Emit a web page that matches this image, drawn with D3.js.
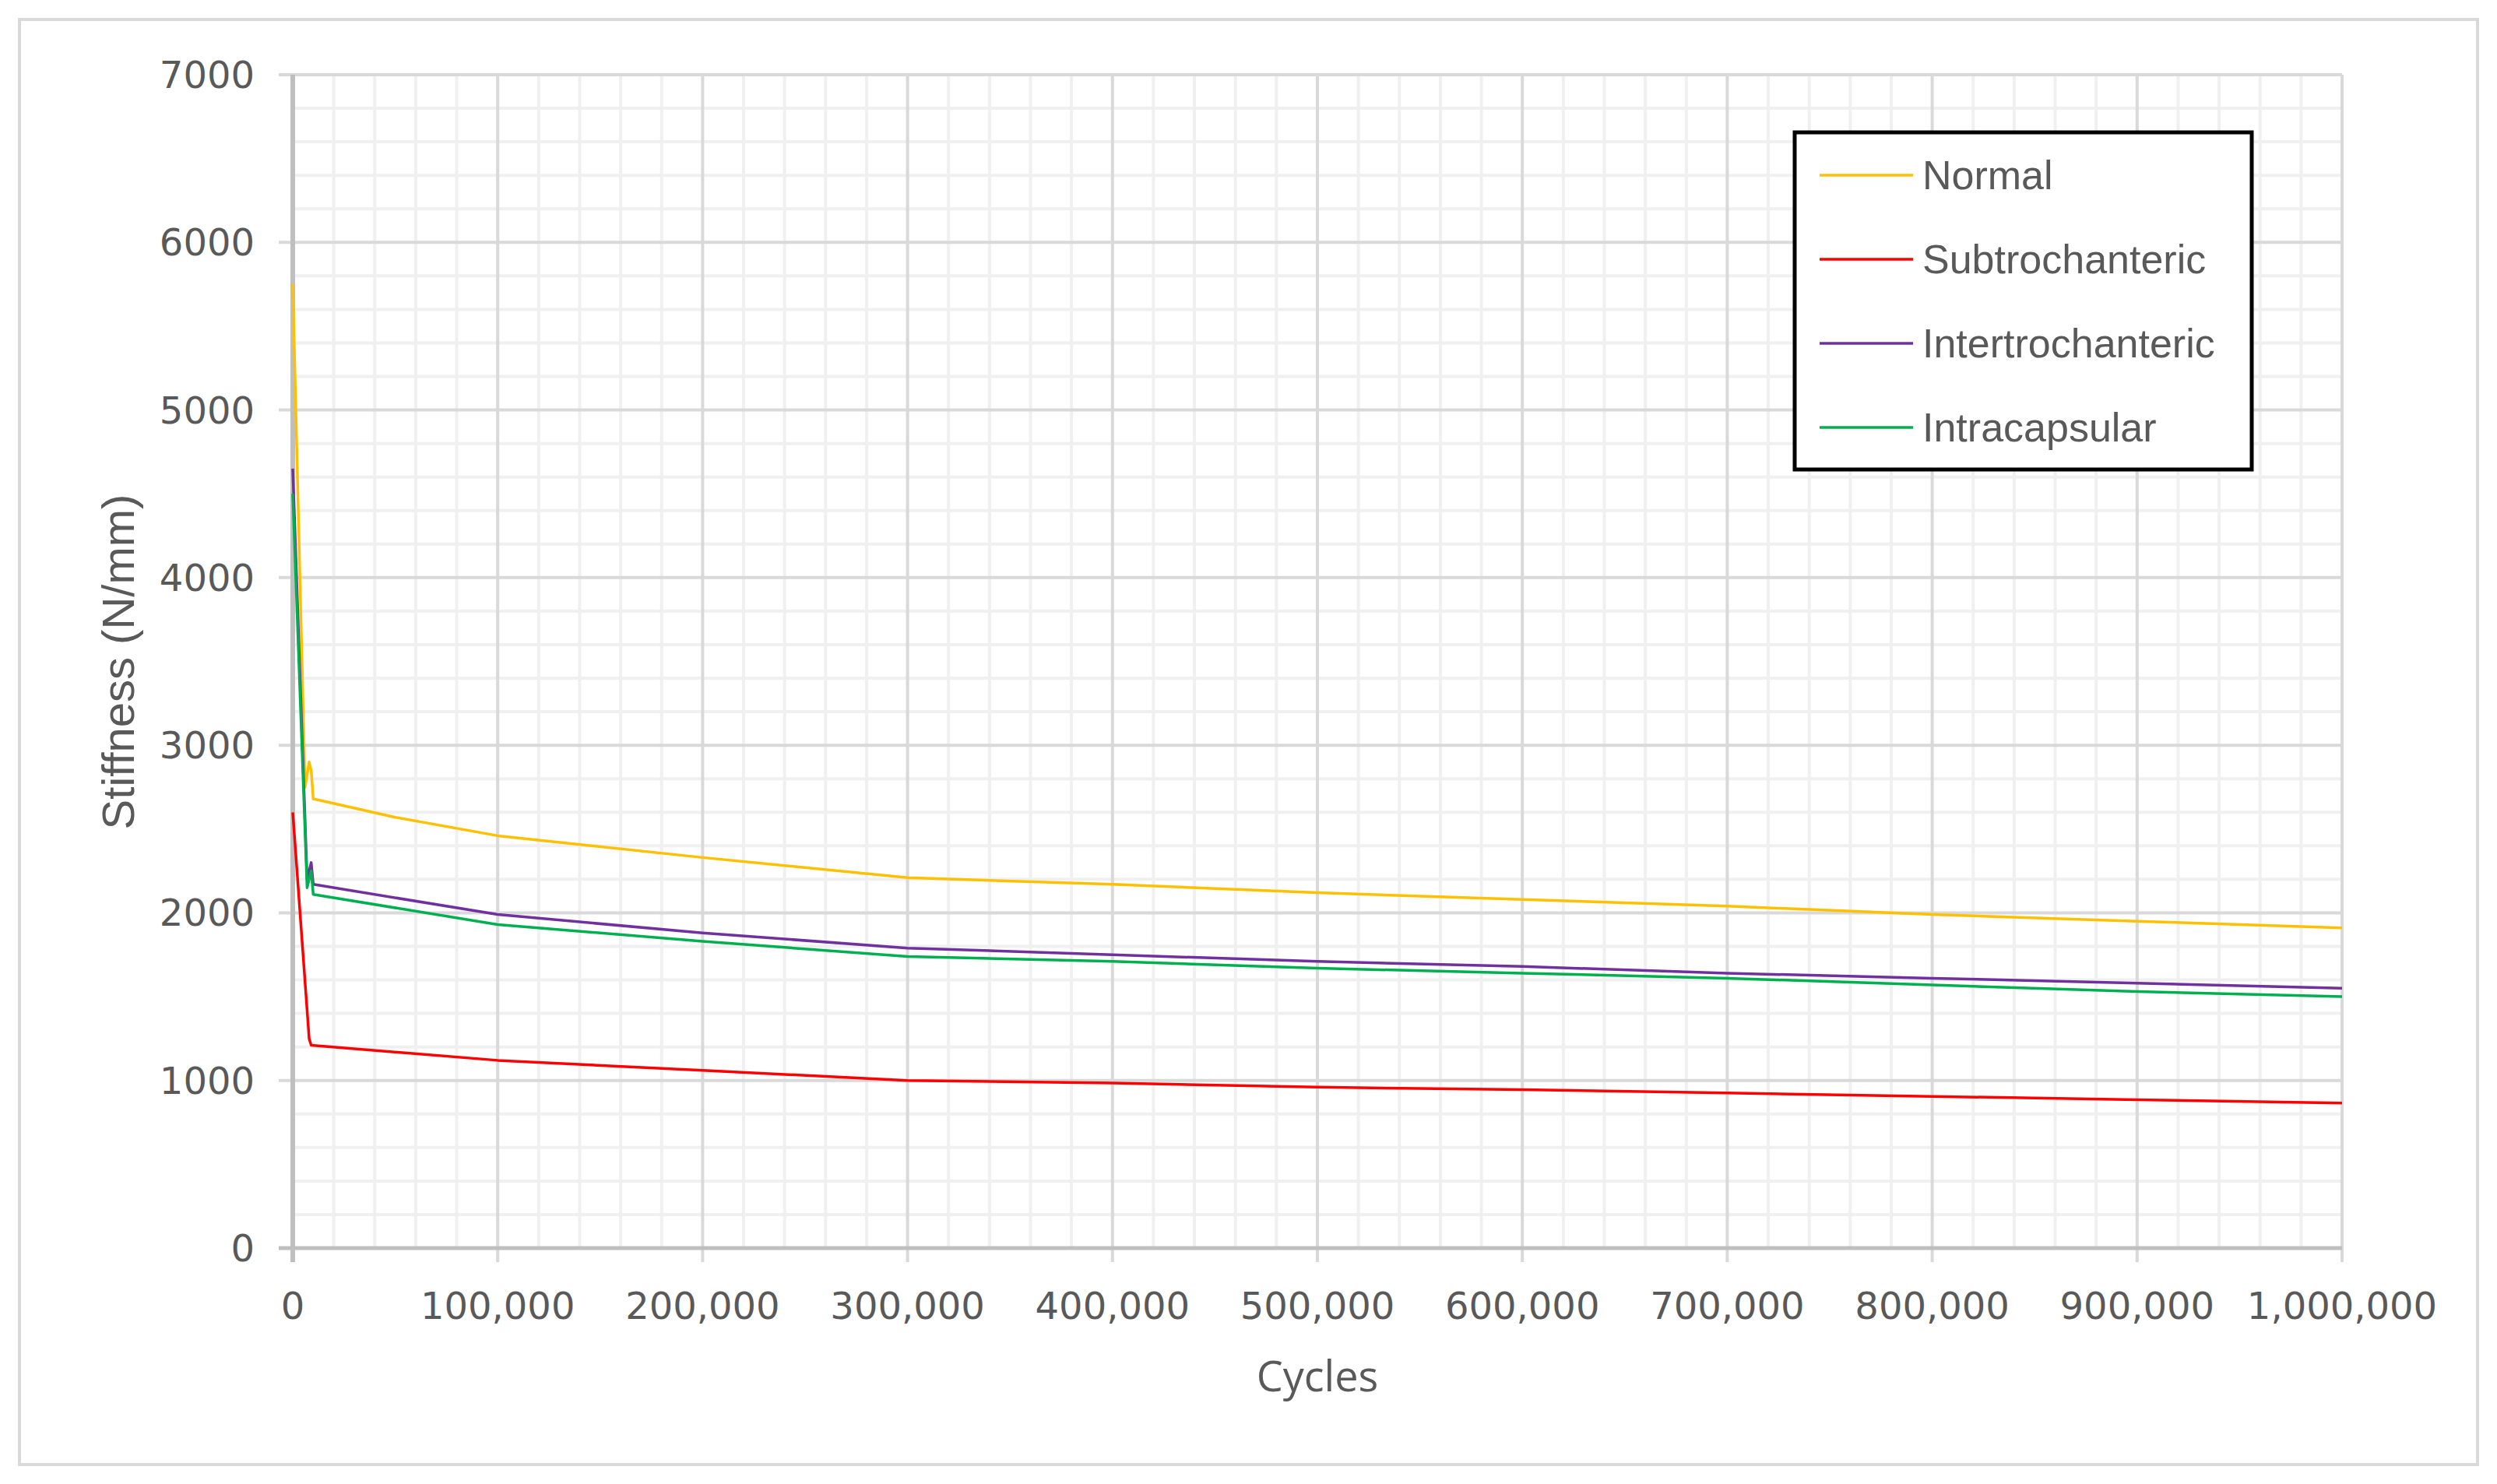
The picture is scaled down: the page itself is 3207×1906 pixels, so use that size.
<!DOCTYPE html>
<html><head><meta charset="utf-8">
<script src="https://cdn.jsdelivr.net/npm/d3@7/dist/d3.min.js"></script>
<style>body{margin:0;background:#fff}</style></head>
<body><svg id="c" width="3207" height="1906"></svg>
<script>
const seriesNames = ["Normal","Subtrochanteric","Intertrochanteric","Intracapsular"];
const seriesColors = ["#ffc000","#ff0000","#7030a0","#00b050"];
const normal = [[0,5750],[6000,2750],[8000,2900],[9000,2850],[10000,2680],[50000,2570],[100000,2460],[200000,2330],[300000,2210],[400000,2170],[500000,2120],[600000,2080],[700000,2040],[800000,1990],[900000,1950],[1000000,1910]];
const subtro = [[0,2600],[8000,1250],[9000,1210],[100000,1120],[200000,1060],[300000,1000],[400000,985],[500000,960],[600000,945],[700000,925],[800000,905],[900000,885],[1000000,865]];
const intertro = [[0,4650],[7000,2200],[9000,2300],[10000,2170],[100000,1990],[200000,1880],[300000,1790],[400000,1750],[500000,1710],[600000,1680],[700000,1640],[800000,1610],[900000,1580],[1000000,1550]];
const intracap = [[0,4500],[7000,2150],[9000,2250],[10000,2110],[100000,1930],[200000,1830],[300000,1740],[400000,1710],[500000,1670],[600000,1640],[700000,1610],[800000,1570],[900000,1530],[1000000,1500]];
const xTicks = d3.range(0,1000001,100000);
const yTicks = d3.range(0,7001,1000);

const svg = d3.select("#c");
const L=376,R=3008,T=96,B=1603;
const x=d3.scaleLinear().domain([0,1000000]).range([L,R]);
const y=d3.scaleLinear().domain([0,7000]).range([B,T]);
svg.append("rect").attr("x",25).attr("y",25).attr("width",3157).attr("height",1856).attr("fill","#fff").attr("stroke","#d9d9d9").attr("stroke-width",4);
const g=svg.append("g");
d3.range(0,1000001,20000).forEach(v=>{ if(v%100000) g.append("line").attr("x1",x(v)).attr("x2",x(v)).attr("y1",T).attr("y2",B).attr("stroke","#f0f0f0").attr("stroke-width",4);});
d3.range(0,7001,200).forEach(v=>{ if(v%1000) g.append("line").attr("x1",L).attr("x2",R).attr("y1",y(v)).attr("y2",y(v)).attr("stroke","#f0f0f0").attr("stroke-width",4);});
xTicks.forEach(v=>g.append("line").attr("x1",x(v)).attr("x2",x(v)).attr("y1",T).attr("y2",B+18).attr("stroke","#d9d9d9").attr("stroke-width",4));
yTicks.forEach(v=>g.append("line").attr("x1",L-18).attr("x2",R).attr("y1",y(v)).attr("y2",y(v)).attr("stroke","#d9d9d9").attr("stroke-width",4));
g.append("line").attr("x1",L).attr("x2",L).attr("y1",T).attr("y2",B+18).attr("stroke","#bfbfbf").attr("stroke-width",6);
g.append("line").attr("x1",L-18).attr("x2",R).attr("y1",B).attr("y2",B).attr("stroke","#bfbfbf").attr("stroke-width",5);
const fmt=d3.format(",");
xTicks.forEach(v=>svg.append("text").attr("x",x(v)).attr("y",1694).attr("text-anchor","middle").attr("font-family","DejaVu Sans").attr("font-size",48).attr("fill","#595959").text(fmt(v)));
yTicks.forEach(v=>svg.append("text").attr("x",327).attr("y",y(v)+17).attr("text-anchor","end").attr("font-family","DejaVu Sans").attr("font-size",48).attr("fill","#595959").text(v));
svg.append("text").attr("transform","translate(172,850) rotate(-90)").attr("text-anchor","middle").attr("font-family","Liberation Sans, sans-serif").attr("font-size",58).attr("fill","#595959").text("Stiffness (N/mm)");
svg.append("text").attr("x",(L+R)/2).attr("y",1787).attr("text-anchor","middle").attr("font-family","Open Sans").attr("font-size",54).attr("fill","#595959").text("Cycles");
const line=d3.line().x(d=>x(d[0])).y(d=>y(d[1]));
[normal,subtro,intertro,intracap].forEach((s,i)=>svg.append("path").attr("d",line(s)).attr("fill","none").attr("stroke",seriesColors[i]).attr("stroke-width",3.5).attr("stroke-linejoin","round"));
svg.append("rect").attr("x",2305).attr("y",170).attr("width",587).attr("height",433).attr("fill","#fff").attr("stroke","#000").attr("stroke-width",5);
seriesNames.forEach((n,i)=>{const yy=225+i*108;
 svg.append("line").attr("x1",2337).attr("x2",2457).attr("y1",yy).attr("y2",yy).attr("stroke",seriesColors[i]).attr("stroke-width",3.5);
 svg.append("text").attr("x",2469).attr("y",yy+18).attr("font-family","Liberation Sans, sans-serif").attr("font-size",52).attr("fill","#595959").text(n);});
</script></body></html>
